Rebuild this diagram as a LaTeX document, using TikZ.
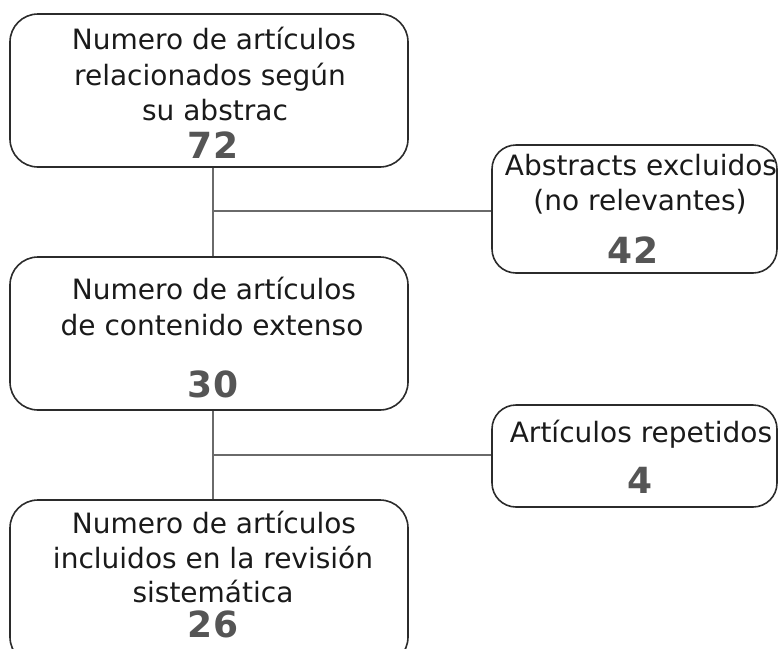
\documentclass[tikz,border=0pt]{standalone}
\usepackage{fontspec}
\setmainfont{DejaVu Sans}
\definecolor{boxline}{HTML}{2B2B2B}
\definecolor{conline}{HTML}{6A6A6A}
\definecolor{numgray}{HTML}{555555}
\definecolor{txtblack}{HTML}{1A1A1A}
\begin{document}
\begin{tikzpicture}[x=1pt,y=-1pt,
  boxstyle/.style={draw=boxline,line width=1.6pt,rounded corners=28pt},
  txt/.style={anchor=base,inner sep=0pt,text=txtblack,font=\fontsize{28}{34}\selectfont},
  num/.style={anchor=base,inner sep=0pt,text=numgray,font=\fontsize{36}{40}\selectfont\bfseries},
  conn/.style={draw=conline,line width=1.4pt}]
\useasboundingbox (0,0) rectangle (778,648);
\begin{scope}
\clip (0,0) rectangle (778,648);
% boxes
\node[boxstyle,minimum width=398pt,minimum height=153pt,inner sep=0pt] (b1) at (209,90.5) {};
\node[boxstyle,minimum width=398pt,minimum height=153pt,inner sep=0pt] (b2) at (209,333.5) {};
\node[boxstyle,minimum width=398pt,minimum height=165pt,inner sep=0pt] (b3) at (209,582.5) {};
\node[boxstyle,rounded corners=24pt,minimum width=285pt,minimum height=128pt,inner sep=0pt] (r1) at (634.5,209) {};
\node[boxstyle,rounded corners=24pt,minimum width=285pt,minimum height=102pt,inner sep=0pt] (r2) at (634.5,456) {};
\end{scope}
% texts
\node[txt] (t11) at (214,49) {Numero de artículos};
\node[txt] (t12) at (210,85) {relacionados según};
\node[txt] (t13) at (215,120) {su abstrac};
\node[num] (n1) at (213,158) {72};
\node[txt] (t21) at (214,299) {Numero de artículos};
\node[txt] (t22) at (212,335) {de contenido extenso};
\node[num] (n2) at (213,397) {30};
\node[txt] (t31) at (214,533) {Numero de artículos};
\node[txt] (t32) at (213,568) {incluidos en la revisión};
\node[txt] (t33) at (213,602) {sistemática};
\node[num] (n3) at (213,637) {26};
\node[txt] (t41) at (641,175) {Abstracts excluidos};
\node[txt] (t42) at (640,210) {(no relevantes)};
\node[num] (n4) at (633,263) {42};
\node[txt] (t51) at (641,442) {Artículos repetidos};
\node[num] (n5) at (640,493) {4};
% connectors
\coordinate (j1) at (213,211);
\coordinate (j2) at (213,455);
\draw[conn] (b1.south -| j1) -- (b2.north -| j1);
\draw[conn] (j1) -- (r1.west |- j1);
\draw[conn] (b2.south -| j2) -- (b3.north -| j2);
\draw[conn] (j2) -- (r2.west |- j2);
\end{tikzpicture}
\end{document}
